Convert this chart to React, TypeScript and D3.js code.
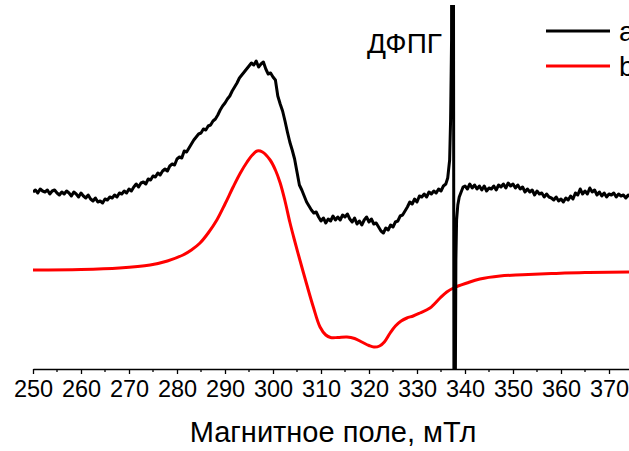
import React, { useEffect, useRef } from "react";
import * as d3 from "d3";

// Experimental EPR spectrum (a), field in mT, intensity in arbitrary units
const spectrumA: [number, number][] = [
  [250, 8], [250.5, 10], [251, 7], [251.5, 11], [252, 9], [252.5, 8], [253, 10], [253.5, 6],
  [254, 9], [254.5, 10], [255, 7], [255.5, 5], [256, 8], [256.5, 6], [257, 9], [257.5, 7],
  [258, 4], [258.5, 8], [259, 6], [259.5, 3], [260, 7], [260.5, 4], [261, 2], [261.5, 5],
  [262, 1], [262.5, -1], [263, 2], [263.5, -2], [264, -1], [264.5, -3], [265, 1], [265.5, 0],
  [266, 3], [266.5, 2], [267, 5], [267.5, 3], [268, 7], [268.5, 6], [269, 9], [269.5, 7],
  [270, 11], [270.5, 9], [271, 13], [271.5, 16], [272, 13], [272.5, 17], [273, 18], [273.5, 16],
  [274, 21], [274.5, 20], [275, 24], [275.5, 23], [276, 27], [276.5, 25], [277, 29], [277.5, 31],
  [278, 29], [278.5, 34], [279, 36], [279.5, 35], [280, 41], [280.5, 43], [281, 42], [281.5, 49],
  [282, 48], [282.5, 52], [283, 56], [283.5, 60], [284, 63], [284.5, 66], [285, 67], [285.5, 71],
  [286, 70], [286.5, 74], [287, 75], [287.5, 79], [288, 81], [288.5, 85], [289, 90], [289.5, 94],
  [290, 97], [290.5, 101], [291, 104], [291.5, 109], [292, 113], [292.5, 117], [293, 122], [293.5, 125],
  [294, 128], [294.5, 131], [295, 134], [295.5, 137], [296, 135], [296.5, 139], [297, 133], [297.5, 136],
  [298, 138], [298.5, 131], [299, 126], [299.5, 127], [300, 123], [300.5, 120], [301, 104], [301.5, 96],
  [302, 89], [302.5, 79], [303, 68], [303.5, 58], [304, 50], [304.5, 41], [305, 28], [305.5, 15],
  [306, 10], [306.5, 4], [307, -2], [307.5, -6], [308, -10], [308.5, -13], [309, -12], [309.5, -17],
  [310, -21], [310.5, -18], [311, -23], [311.5, -19], [312, -21], [312.5, -16], [313, -20], [313.5, -17],
  [314, -20], [314.5, -15], [315, -17], [315.5, -14], [316, -19], [316.5, -22], [317, -18], [317.5, -24],
  [318, -21], [318.5, -25], [319, -20], [319.5, -17], [320, -22], [320.5, -19], [321, -24], [321.5, -23],
  [322, -27], [322.5, -31], [323, -33], [323.5, -28], [324, -30], [324.5, -25], [325, -27], [325.5, -22],
  [326, -21], [326.5, -16], [327, -15], [327.5, -11], [328, -7], [328.5, -2], [329, -4], [329.5, 1],
  [330, -2], [330.5, 4], [331, 3], [331.5, 6], [332, 3], [332.5, 8], [333, 6], [333.5, 9],
  [334, 7], [334.5, 11], [335, 9], [335.5, 14], [336, 16], [336.4, 22], [336.8, 40], [337.0, 80],
  [337.2, 160], [337.32, 900], [337.58, 300], [337.72, -300], [337.82, -900], [338.0, -170], [338.1, -60], [338.25, -20],
  [338.5, -5], [338.8, 3], [339.2, 8], [339.6, 13], [340, 14], [340.5, 11], [341, 16], [341.5, 12],
  [342, 15], [342.5, 11], [343, 14], [343.5, 10], [344, 14], [344.5, 9], [345, 12], [345.5, 11],
  [346, 14], [346.5, 10], [347, 15], [347.5, 13], [348, 16], [348.5, 12], [349, 17], [349.5, 14],
  [350, 16], [350.5, 12], [351, 15], [351.5, 11], [352, 13], [352.5, 8], [353, 11], [353.5, 8],
  [354, 10], [354.5, 5], [355, 9], [355.5, 6], [356, 7], [356.5, 3], [357, 6], [357.5, 3],
  [358, 2], [358.5, 0], [359, 3], [359.5, -1], [360, 1], [360.5, -2], [361, 2], [361.5, 0],
  [362, 4], [362.5, 1], [363, 7], [363.5, 5], [364, 11], [364.5, 6], [365, 9], [365.5, 6],
  [366, 12], [366.5, 8], [367, 10], [367.5, 5], [368, 8], [368.5, 4], [369, 7], [369.5, 3],
  [370, 6], [370.5, 5], [371, 7], [371.5, 3], [372, 6], [372.5, 4], [373, 5], [373.5, 2],
  [374, 5], [374.5, 3], [375, 4],
];

// Simulated spectrum (b)
const spectrumB: [number, number][] = [
  [250, -70], [260, -69.5], [268, -68], [274.4, -65], [278, -61], [281.25, -55], [283, -50],
  [284.8, -43], [286.5, -33], [288.3, -20], [290, -4], [291.7, 13], [293.2, 27], [294.6, 38],
  [295.7, 45], [296.7, 49], [297.8, 48], [299.4, 40], [300.5, 30], [301.5, 17], [302.5, -1],
  [303.5, -22], [304.3, -37], [305.6, -60], [307, -84], [308.4, -107], [309.8, -127], [311, -135],
  [312, -137.5], [313.5, -137.5], [315.4, -137], [317, -138.5], [318.5, -142], [320, -145.5],
  [321, -147], [322.2, -146], [323.2, -142], [324.4, -133], [325.5, -126], [326.7, -121],
  [327.9, -118], [329.2, -116], [330.6, -113], [332.7, -108], [334.8, -98], [336.2, -92],
  [337.6, -88], [340.4, -83], [343.1, -79], [347.3, -76], [352, -74.8], [358, -73.6],
  [365, -72.5], [375, -72],
];

const seriesNames = ["a", "b"];
const seriesColors = ["#000000", "#ff0000"];
const fieldDomain: [number, number] = [250, 375];
const intensityDomain: [number, number] = [-169, 195];
const majorTicks = d3.range(250, 371, 10);
const minorTicks = d3.range(255, 376, 10);
const xTitle = "Магнитное поле, мТл";
const markerLabel = "ДФПГ";

const W = 629;
const H = 451;
const plot = { left: 33, right: 633, top: 5, bottom: 369 };
const FONT = "'Liberation Sans', Arial, Helvetica, sans-serif";

export default function App() {
  const axisRef = useRef<SVGGElement>(null);

  const x = d3.scaleLinear().domain(fieldDomain).range([plot.left, plot.right]);
  const y = d3.scaleLinear().domain(intensityDomain).range([plot.bottom, plot.top]);

  const rawLine = d3
    .line<[number, number]>()
    .x((d) => x(d[0]))
    .y((d) => y(d[1]));
  const smoothLine = d3
    .line<[number, number]>()
    .x((d) => x(d[0]))
    .y((d) => y(d[1]))
    .curve(d3.curveCatmullRom.alpha(0.5));

  useEffect(() => {
    if (!axisRef.current) return;
    const g = d3.select(axisRef.current);
    g.selectAll("*").remove();
    const axis = d3
      .axisBottom(x)
      .tickValues(majorTicks)
      .tickSize(5)
      .tickSizeOuter(0)
      .tickPadding(6)
      .tickFormat((d) => String(d));
    g.call(axis as any);
    g.select(".domain").attr("stroke", "#000").attr("stroke-width", 1.3);
    g.selectAll(".tick line").attr("stroke", "#000").attr("stroke-width", 1.3);
    g.selectAll(".tick text")
      .attr("font-family", FONT)
      .attr("font-size", 23.5)
      .attr("fill", "#000");
    g.append("g")
      .selectAll("line")
      .data(minorTicks)
      .join("line")
      .attr("x1", (d) => x(d))
      .attr("x2", (d) => x(d))
      .attr("y1", 0)
      .attr("y2", 3)
      .attr("stroke", "#000")
      .attr("stroke-width", 1.3);
  }, []);

  return (
    <svg
      width={W}
      height={H}
      style={{ position: "absolute", left: 0, top: 0, background: "#fff" }}
    >
      <defs>
        <clipPath id="plotClip">
          <rect x={plot.left} y={plot.top} width={W - plot.left} height={plot.bottom - plot.top} />
        </clipPath>
      </defs>
      <g clipPath="url(#plotClip)">
        <path
          d={smoothLine(spectrumB) || ""}
          fill="none"
          stroke={seriesColors[1]}
          strokeWidth={3}
          strokeLinejoin="round"
        />
        <path
          d={rawLine(spectrumA) || ""}
          fill="none"
          stroke={seriesColors[0]}
          strokeWidth={3}
          strokeLinejoin="round"
        />
      </g>
      <g ref={axisRef} transform={`translate(0,${plot.bottom})`} />
      <text
        x={(plot.left + plot.right) / 2}
        y={442}
        textAnchor="middle"
        fontFamily={FONT}
        fontSize={29}
        fill="#000"
      >
        {xTitle}
      </text>
      <text x={367} y={53} fontFamily={FONT} fontSize={28} fill="#000">
        {markerLabel}
      </text>
      {seriesNames.map((name, i) => (
        <g key={name}>
          <line
            x1={546}
            x2={610}
            y1={31 + i * 35}
            y2={31 + i * 35}
            stroke={seriesColors[i]}
            strokeWidth={3}
          />
          <text x={619} y={41 + i * 35} fontFamily={FONT} fontSize={28} fill="#000">
            {name}
          </text>
        </g>
      ))}
    </svg>
  );
}
